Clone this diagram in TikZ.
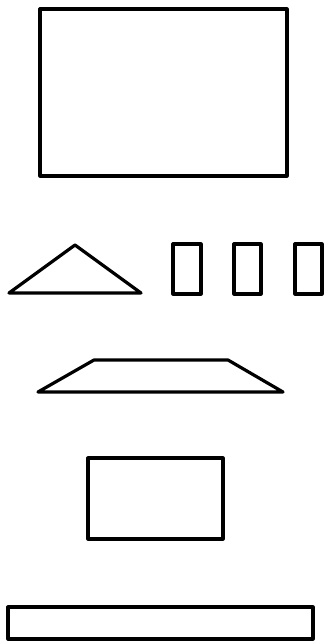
\documentclass[tikz,border=0pt]{standalone}
\begin{document}
\begin{tikzpicture}[x=1pt,y=-1pt,outl/.style={draw=black,line width=3.2pt,line join=round}]
\useasboundingbox (0,0) rectangle (326,642);
\draw[outl] (40,9) rectangle (287,176);
\draw[outl] (9,293) -- (75,245) -- (141,293) -- cycle;
\draw[outl] (173,244) rectangle (201,294);
\draw[outl] (234,244) rectangle (261,294);
\draw[outl] (295,244) rectangle (322,294);
\draw[outl] (38,392) -- (94,360) -- (228,360) -- (283,392) -- cycle;
\draw[outl] (88,458) rectangle (223,539);
\draw[outl] (8,607) rectangle (313,639);
\end{tikzpicture}
\end{document}
